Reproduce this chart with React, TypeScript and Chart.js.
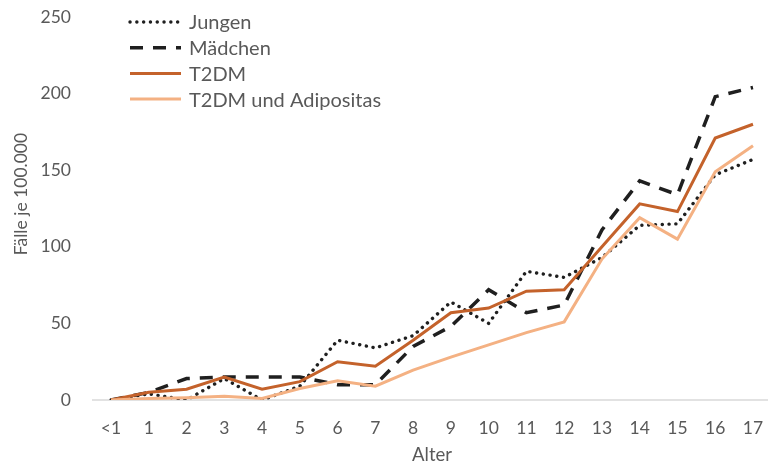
import React, { useEffect, useRef } from "react";
import { Chart, registerables } from "chart.js";

Chart.register(...registerables);

const categories = ["<1", "1", "2", "3", "4", "5", "6", "7", "8", "9", "10", "11", "12", "13", "14", "15", "16", "17"];
const jungen = [0, 4, 0, 14, 0, 9, 39, 34, 42, 64, 50, 84, 80, 93, 114, 115, 147, 157];
const maedchen = [0, 5, 14, 15, 15, 15, 10, 10, 35, 48, 72, 57, 62, 111, 143, 134, 198, 204];
const t2dm = [0, 5, 7, 15, 7, 12, 25, 22, 39, 57, 60, 71, 72, 100, 128, 123, 171, 180];
const t2dmAdipositas = [0, 1, 1.5, 2.5, 1, 7.5, 12.5, 9, 19.5, 28, 36, 44, 51, 92, 119, 105, 149, 166];
const seriesNames = ["Jungen", "Mädchen", "T2DM", "T2DM und Adipositas"];
const yTitle = "Fälle je 100.000";
const xTitle = "Alter";

const FONT = "Lato, 'Open Sans', sans-serif";
const TEXT_COLOR = "#595959";

const legendPlugin = {
  id: "customLegend",
  afterDraw(chart: any) {
    const ctx = chart.ctx;
    const x0 = 130;
    const x1 = 181;
    const tx = 189;
    const y0 = 22;
    const dy = 25.7;
    chart.data.datasets.forEach((ds: any, i: number) => {
      const y = y0 + i * dy;
      ctx.save();
      ctx.strokeStyle = ds.borderColor;
      ctx.lineWidth = ds.borderWidth;
      ctx.lineCap = ds.borderCapStyle || "butt";
      ctx.setLineDash(ds.borderDash || []);
      ctx.beginPath();
      ctx.moveTo(x0, y);
      ctx.lineTo(x1, y);
      ctx.stroke();
      ctx.restore();
      ctx.save();
      ctx.fillStyle = TEXT_COLOR;
      ctx.font = `20px ${FONT}`;
      ctx.textBaseline = "middle";
      ctx.textAlign = "left";
      ctx.fillText(ds.label, tx, y + 1);
      ctx.restore();
    });
    // y-axis title
    ctx.save();
    ctx.translate(21, 194);
    ctx.rotate(-Math.PI / 2);
    ctx.fillStyle = TEXT_COLOR;
    ctx.font = `17.5px ${FONT}`;
    ctx.textAlign = "center";
    ctx.textBaseline = "middle";
    ctx.fillText(yTitle, 0, 0);
    ctx.restore();
  },
};

const baselinePlugin = {
  id: "baseline",
  beforeDatasetsDraw(chart: any) {
    const ctx = chart.ctx;
    const y = chart.scales.y.getPixelForValue(0);
    ctx.save();
    ctx.strokeStyle = "#d9d9d9";
    ctx.lineWidth = 1.5;
    ctx.beginPath();
    ctx.moveTo(92, y);
    ctx.lineTo(768, y);
    ctx.stroke();
    ctx.restore();
  },
};

export default function App() {
  const ref = useRef<HTMLCanvasElement>(null);
  useEffect(() => {
    document.body.style.margin = "0";
    const canvas = ref.current!;
    const chart = new Chart(canvas, {
      type: "line",
      data: {
        labels: categories,
        datasets: [
          {
            label: seriesNames[0],
            data: jungen,
            borderColor: "#1f1f1f",
            borderWidth: 3.4,
            borderDash: [0.1, 6.7],
            borderCapStyle: "round",
            pointRadius: 0,
            tension: 0,
            order: 4,
          },
          {
            label: seriesNames[1],
            data: maedchen,
            borderColor: "#1f1f1f",
            borderWidth: 3.5,
            borderDash: [13, 10],
            borderCapStyle: "butt",
            pointRadius: 0,
            tension: 0,
            order: 3,
          },
          {
            label: seriesNames[2],
            data: t2dm,
            borderColor: "#C4622B",
            borderWidth: 3,
            pointRadius: 0,
            tension: 0,
            order: 2,
          },
          {
            label: seriesNames[3],
            data: t2dmAdipositas,
            borderColor: "#F4B183",
            borderWidth: 3,
            pointRadius: 0,
            tension: 0,
            order: 1,
          },
        ],
      },
      options: {
        responsive: false,
        animation: false,
        layout: { padding: { top: 17, right: 15, left: 0, bottom: 0 } },
        plugins: { legend: { display: false }, tooltip: { enabled: false } },
        scales: {
          x: {
            offset: false,
            grid: {
              display: true,
              drawOnChartArea: false,
              drawTicks: true,
              tickLength: 18,
              color: "rgba(0,0,0,0)",
            },
            border: { display: false },
            ticks: {
              color: TEXT_COLOR,
              font: { family: FONT, size: 17.5 },
              padding: 0,
              maxRotation: 0,
              autoSkip: false,
            },
            title: {
              display: true,
              text: xTitle,
              color: TEXT_COLOR,
              font: { family: FONT, size: 18.5 },
              padding: { top: 0, bottom: 0 },
            },
            afterFit(scale: any) {
              scale.height = 66;
            },
          },
          y: {
            min: 0,
            max: 250,
            grid: {
              display: true,
              drawOnChartArea: false,
              drawTicks: true,
              tickLength: 40,
              color: "rgba(0,0,0,0)",
            },
            border: { display: false },
            ticks: {
              stepSize: 50,
              color: TEXT_COLOR,
              font: { family: FONT, size: 17.5 },
              padding: 0,
            },
            title: { display: false },
            afterFit(scale: any) {
              scale.width = 111;
            },
          },
        },
      },
      plugins: [legendPlugin, baselinePlugin],
    } as any);
    return () => chart.destroy();
  }, []);
  return (
    <div style={{ width: 768, height: 466 }}>
      <canvas ref={ref} width={768} height={466} />
    </div>
  );
}
